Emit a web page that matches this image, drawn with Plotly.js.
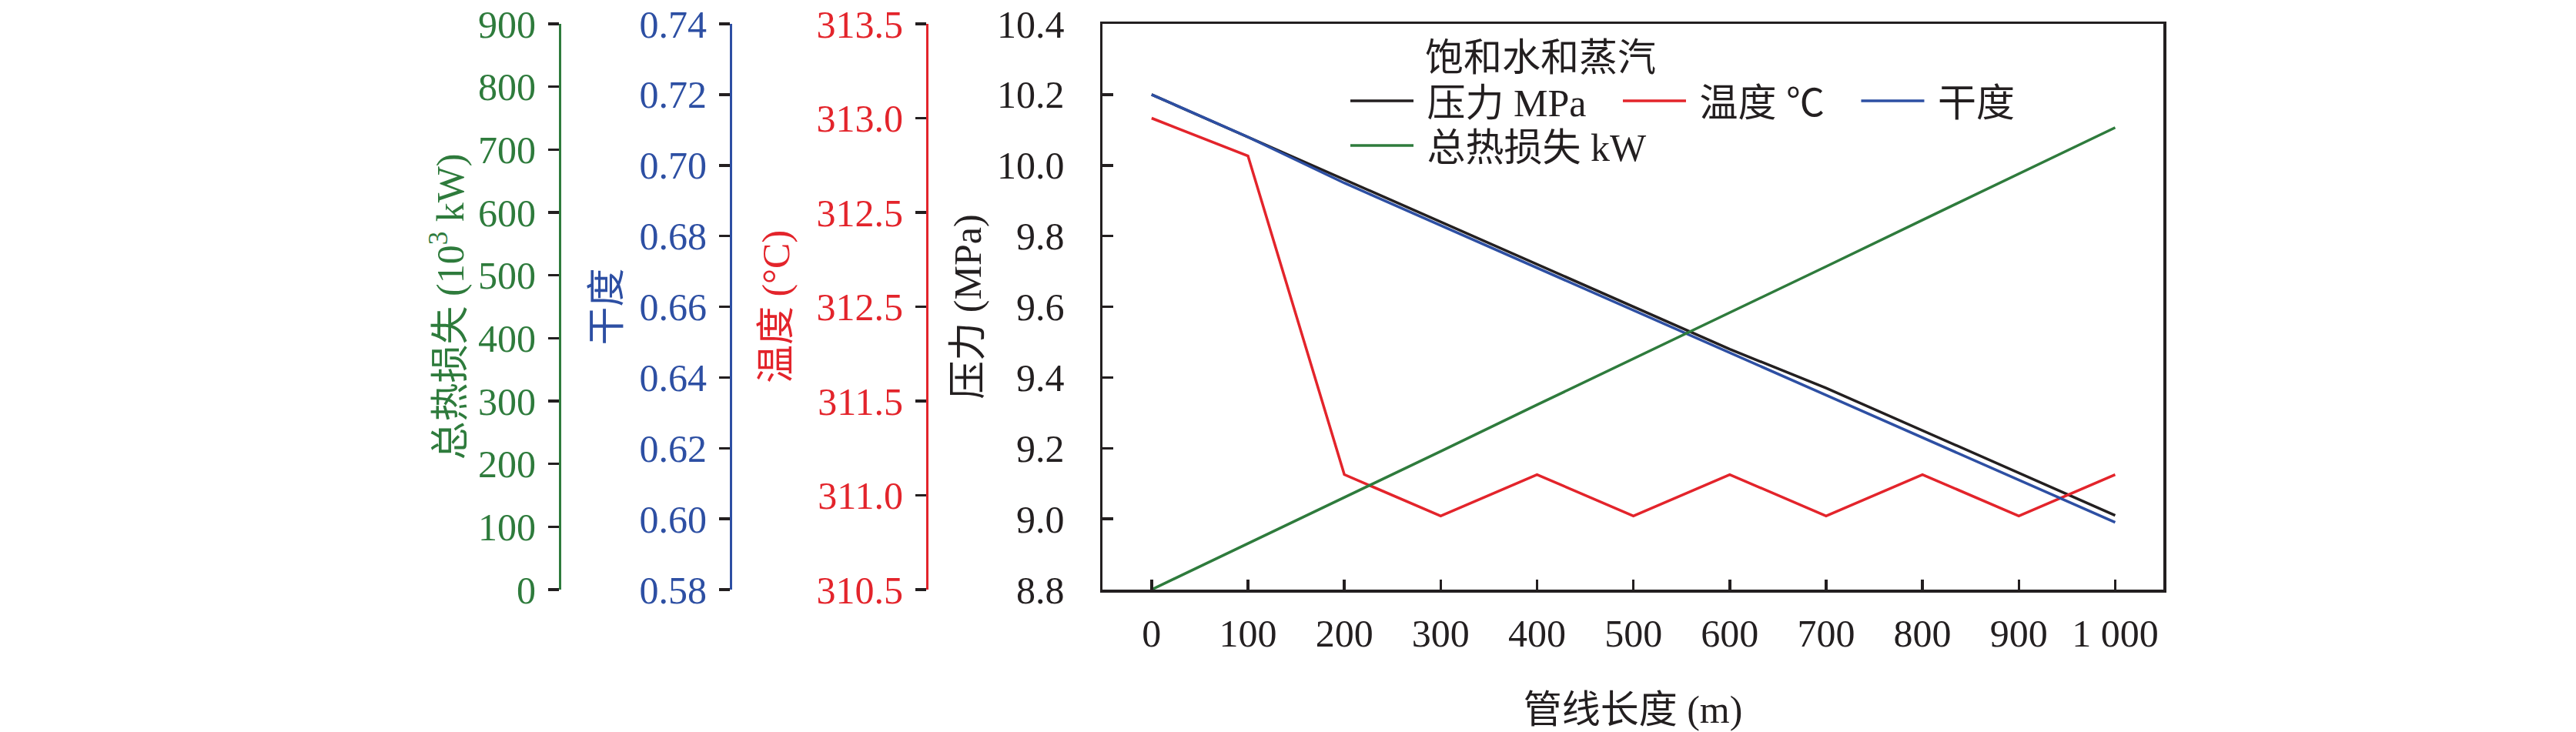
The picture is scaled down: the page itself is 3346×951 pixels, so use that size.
<!DOCTYPE html>
<html>
<head>
<meta charset="utf-8">
<script src="https://cdn.plot.ly/plotly-3.0.1.min.js"></script>
<style>html,body{margin:0;padding:0;background:#fff}</style>
</head>
<body>
<div id="chart" style="width:3346px;height:951px"></div>
<script>
// 管线长度 (m)
var lengths = [0, 100, 200, 300, 400, 500, 600, 700, 800, 900, 1000];
// values
var pressure = [10.20, 10.08, 9.96, 9.84, 9.72, 9.60, 9.48, 9.37, 9.25, 9.13, 9.01];
var temperature = [313.00, 312.80, 311.11, 310.89, 311.11, 310.89, 311.11, 310.89, 311.11, 310.89, 311.11];
var dryness = [0.720, 0.708, 0.695, 0.683, 0.671, 0.659, 0.647, 0.635, 0.623, 0.611, 0.599];
var heatLoss = [0, 73, 147, 220, 294, 367, 441, 514, 588, 661, 735];

var xTickVals = [0, 100, 200, 300, 400, 500, 600, 700, 800, 900, 1000];
var xTickText = ["0", "100", "200", "300", "400", "500", "600", "700", "800", "900", "1 000"];
// the source figure labels 312.0 as "312.5" too
var tempTickVals = [310.5, 311.0, 311.5, 312.0, 312.5, 313.0, 313.5];
var tempTickText = ["310.5", "311.0", "311.5", "312.5", "312.5", "313.0", "313.5"];

var serif = 'Liberation Serif, "Noto Sans CJK SC", serif';
var ink = "#231f20";
var red = "#e3242b";
var blue = "#2d4fa3";
var green = "#2e7b3c";
var W = 3346;
var sp = "\u00a0";

function font(c) { return { family: serif, size: 50, color: c }; }

var traces = [
  { x: lengths, y: pressure, name: sp + "压力 MPa" + sp.repeat(3), yaxis: "y",
    mode: "lines", line: { color: ink, width: 3.5 }, legend: "legend" },
  { x: lengths, y: temperature, name: sp + "温度 ℃" + sp.repeat(3), yaxis: "y2",
    mode: "lines", line: { color: red, width: 3.5 }, legend: "legend" },
  { x: lengths, y: dryness, name: sp + "干度", yaxis: "y3",
    mode: "lines", line: { color: blue, width: 3.5 }, legend: "legend" },
  { x: lengths, y: heatLoss, name: sp + "总热损失 kW", yaxis: "y4",
    mode: "lines", line: { color: green, width: 3.5 }, legend: "legend2" }
];

function sideAxis(pos, col, extra) {
  var a = {
    overlaying: "y", anchor: "free", position: pos / W, side: "left",
    showline: true, linecolor: col, linewidth: 3,
    ticks: "outside", ticklen: 14, tickwidth: 3.5, tickcolor: ink,
    tickfont: font(col), showgrid: false, zeroline: false, ticklabelstandoff: 6
  };
  for (var k in extra) a[k] = extra[k];
  return a;
}

var layout = {
  width: 3346, height: 951,
  margin: { l: 0, r: 0, t: 31, b: 185 },
  paper_bgcolor: "#fff", plot_bgcolor: "#fff",
  font: font(ink),
  xaxis: {
    domain: [1432 / W, 2810 / W], range: [-51, 1050],
    tickvals: xTickVals, ticktext: xTickText,
    ticks: "inside", ticklen: 13, tickwidth: 3.5, tickcolor: ink,
    showline: true, linecolor: ink, linewidth: 3.5, mirror: true,
    showgrid: false, zeroline: false, tickfont: font(ink), ticklabelstandoff: 10,
    title: { text: "管线长度 (m)", font: font(ink), standoff: 55 }
  },
  yaxis: {
    range: [8.8, 10.4], dtick: 0.2, tick0: 8.8, tickformat: ".1f",
    ticks: "inside", ticklen: 14, tickwidth: 3.5, tickcolor: ink,
    showline: true, linecolor: ink, linewidth: 3.5, mirror: true,
    showgrid: false, zeroline: false, tickfont: font(ink), ticklabelstandoff: 36,
    title: { text: "压力 (MPa)", font: font(ink), standoff: 5 }
  },
  yaxis2: sideAxis(1204, red, {
    range: [310.5, 313.5], tickvals: tempTickVals, ticktext: tempTickText,
    title: { text: "温度 (°C)", font: font(red), standoff: 18 }
  }),
  yaxis3: sideAxis(949, blue, {
    range: [0.58, 0.74], dtick: 0.02, tick0: 0.58, tickformat: ".2f",
    title: { text: "干度", font: font(blue), standoff: 8 }
  }),
  yaxis4: sideAxis(727, green, {
    range: [0, 900], dtick: 100, tick0: 0,
    title: { text: "总热损失 (10<sup>3</sup> kW)", font: font(green), standoff: 1 }
  }),
  legend: {
    orientation: "h", x: 1749 / W, xanchor: "left", y: (766 - 27) / 735, yanchor: "top",
    bgcolor: "rgba(0,0,0,0)", borderwidth: 0, itemwidth: 82, valign: "middle",
    font: font(ink), tracegroupgap: 0,
    title: { text: sp.repeat(8) + "饱和水和蒸汽", font: font(ink), side: "top" }
  },
  legend2: {
    orientation: "h", x: 1749 / W, xanchor: "left", y: (766 - 150) / 735, yanchor: "top",
    bgcolor: "rgba(0,0,0,0)", borderwidth: 0, itemwidth: 82, valign: "middle",
    font: font(ink)
  },
  showlegend: true
};

Plotly.newPlot("chart", traces, layout, { staticPlot: true });
</script>
</body>
</html>
